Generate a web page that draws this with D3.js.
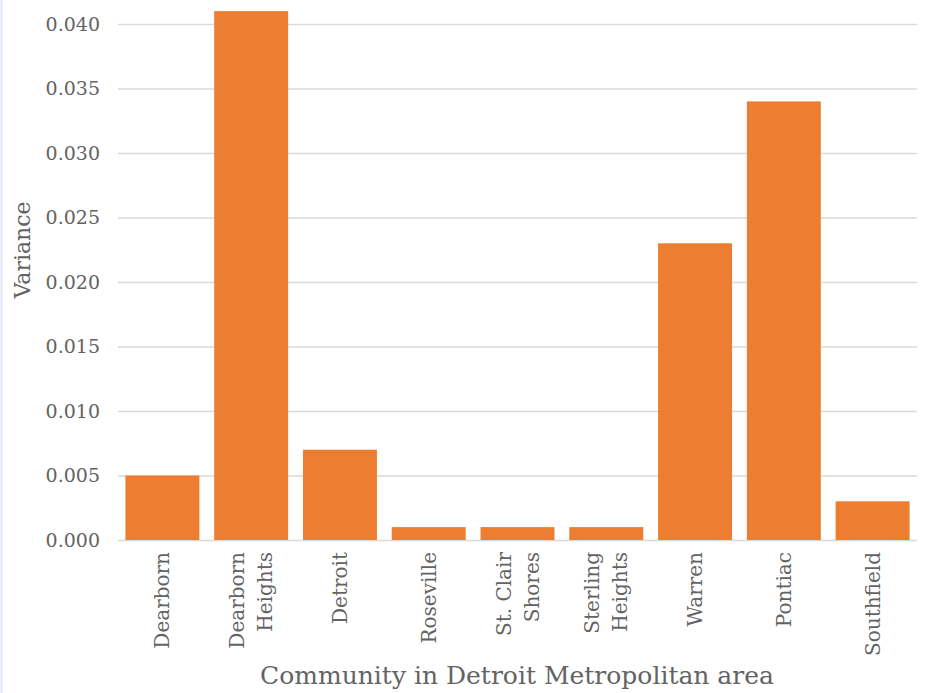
<!DOCTYPE html>
<html>
<head>
<meta charset="utf-8">
<script src="https://cdn.jsdelivr.net/npm/d3@7"></script>
<style>
  body{margin:0;background:#fff;}
  text{font-family:"DejaVu Serif",serif;fill:#636363;}
</style>
</head>
<body>
<div id="chart"></div>
<script>
const communities = [["Dearborn"],["Dearborn","Heights"],["Detroit"],["Roseville"],["St. Clair","Shores"],["Sterling","Heights"],["Warren"],["Pontiac"],["Southfield"]];
const variance = [0.005,0.041,0.007,0.001,0.001,0.001,0.023,0.034,0.003];
const yTicks = [0,0.005,0.010,0.015,0.020,0.025,0.030,0.035,0.040];

const opt={width:928,height:693,left:118,right:917,top:24,bottom:540}

const svg=d3.select("#chart")
  .append("svg")
  .attr("width",opt.width)
  .attr("height",opt.height)

// faint frame line on the left edge
svg.append("line")
  .attr("x1",1.5).attr("x2",1.5)
  .attr("y1",0).attr("y2",opt.height)
  .attr("stroke","#dce8f4")
  .attr("stroke-width",2)

const xScale=d3.scaleBand()
  .domain(communities.map((d)=>d.join(" ")))
  .range([opt.left,opt.right])
  .paddingInner(0.167)
  .paddingOuter(0.0835)

const yScale=d3.scaleLinear()
  .domain([0,0.04])
  .range([opt.bottom,opt.top])

// gridlines + tick labels
const yAxis=svg.append("g")
  .attr("transform","translate("+opt.left+",0)")
  .call(d3.axisLeft(yScale).tickValues(yTicks).tickFormat(d3.format(".3f")).tickSize(-(opt.right-opt.left)).tickPadding(18))
yAxis.select(".domain").remove()
yAxis.selectAll(".tick line").attr("stroke","#d9d9d9").attr("stroke-width",1.5)
yAxis.selectAll(".tick text").attr("font-size","19px").attr("fill","#636363").attr("font-family","DejaVu Serif, serif")

svg.selectAll("rect.bar")
  .data(variance)
  .enter()
  .append("rect")
  .attr("class","bar")
  .attr("x",(d,i)=>xScale(communities[i].join(" ")))
  .attr("y",(d)=>yScale(d))
  .attr("width",xScale.bandwidth())
  .attr("height",(d)=>yScale(0)-yScale(d))
  .attr("fill","#ed7d31")

// category labels, rotated
const catG=svg.selectAll("g.cat")
  .data(communities)
  .enter()
  .append("g")
  .attr("class","cat")
  .attr("transform",(d)=>"translate("+(xScale(d.join(" "))+xScale.bandwidth()/2)+","+(opt.bottom+12)+") rotate(-90)")

catG.each(function(d){
  const g=d3.select(this)
  const n=d.length
  d.forEach((line,j)=>{
    g.append("text")
      .attr("x",0)
      .attr("y",(j-(n-1)/2)*28)
      .attr("dy","0.35em")
      .attr("text-anchor","end")
      .attr("font-size","20px")
      .text(line)
  })
})

svg.append("text")
  .attr("transform","translate(30,250) rotate(-90)")
  .attr("text-anchor","middle")
  .attr("font-size","22px")
  .text("Variance")

svg.append("text")
  .attr("x",517)
  .attr("y",684)
  .attr("text-anchor","middle")
  .attr("font-size","25px")
  .text("Community in Detroit Metropolitan area")
</script>
</body>
</html>
